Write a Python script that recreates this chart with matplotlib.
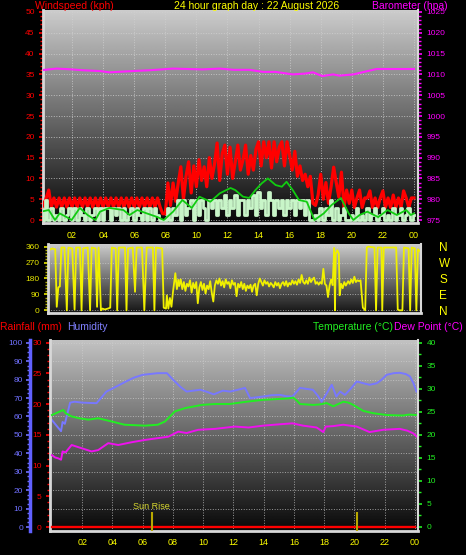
import numpy as np
import matplotlib
matplotlib.use('Agg')
import matplotlib.pyplot as plt
from matplotlib.ticker import MultipleLocator

plt.rcParams['font.family'] = ['Liberation Sans', 'DejaVu Sans']

W, H = 466, 555

hour_ticks = list(range(2, 25, 2))
hour_labels = ['02', '04', '06', '08', '10', '12', '14', '16', '18', '20', '22', '00']

# wind gust / wind speed (kph), one sample every 10 minutes, 00:00 .. 24:00
gust = [5.3, 3.1, 5.3, 7.2, 3.1, 5.3,
        3.1, 5.3, 3.1, 5.3, 3.1, 5.3,
        3.1, 5.3, 3.1, 5.3, 3.1, 5.3,
        3.1, 5.3, 3.1, 5.3, 3.1, 5.3,
        3.1, 5.3, 3.1, 5.3, 3.1, 5.3,
        3.1, 5.3, 3.1, 5.3, 3.1, 5.3,
        3.1, 5.3, 3.1, 5.3, 3.1, 5.3,
        3.1, 5.3, 3.1, 5.3, 3.1, 1.5,
        1.5, 8.9, 3.5, 8.9, 4.5, 8.9,
        12.8, 5.0, 10.5, 14.0, 6.5, 13.0,
        8.0, 14.5, 9.5, 12.8, 8.0, 15.0,
        10.0, 13.5, 18.5, 9.5, 16.0, 18.0,
        11.0, 17.5, 10.0, 14.0, 18.0, 12.0,
        14.5, 18.0, 11.0, 15.5, 12.0, 17.0,
        18.8, 13.0, 18.8, 15.0, 18.8, 12.5,
        18.8, 14.0, 17.5, 18.8, 13.0, 18.8,
        15.5, 12.0, 16.5, 10.5, 13.0, 9.5,
        11.0, 8.0, 10.5, 4.0, 3.5, 6.0,
        11.0, 5.0, 9.0, 4.0, 8.0, 12.7,
        9.0, 5.5, 11.5, 3.0, 7.2, 4.0,
        7.2, 3.0, 5.3, 7.2, 3.0, 5.3,
        5.3, 7.0, 3.0, 5.3, 3.0, 5.3,
        7.0, 3.0, 5.3, 3.0, 6.0, 3.0,
        5.3, 3.0, 7.0, 5.3, 3.0, 5.3,
        5.3]
wind = [3.0, 0.0, 4.8, 0.0, 3.0, 0.0,
        1.2, 0.0, 3.0, 0.0, 1.2, 3.0,
        0.0, 3.0, 0.0, 3.0, 1.2, 0.0,
        3.0, 0.0, 1.2, 3.0, 0.0, 3.0,
        0.0, 3.0, 3.0, 0.0, 3.0, 1.2,
        3.0, 0.0, 3.0, 0.0, 1.2, 3.0,
        0.0, 3.0, 1.2, 0.0, 3.0, 0.0,
        3.0, 0.0, 3.0, 1.2, 0.0, 0.0,
        0.0, 3.0, 0.0, 3.0, 1.2, 4.8,
        0.0, 4.8, 1.2, 3.0, 4.8, 0.0,
        4.8, 1.2, 4.8, 3.0, 0.0, 4.8,
        3.0, 4.8, 1.2, 4.8, 3.0, 6.0,
        1.2, 4.8, 3.0, 6.0, 1.2, 4.8,
        4.8, 1.2, 4.8, 3.0, 6.0, 1.2,
        6.8, 3.0, 4.8, 1.2, 6.8, 4.8,
        1.2, 4.8, 3.0, 4.8, 1.2, 4.8,
        3.0, 4.8, 1.2, 4.8, 3.0, 4.8,
        1.2, 4.8, 0.0, 0.0, 1.2, 0.0,
        3.0, 0.0, 3.0, 1.2, 4.8, 0.0,
        3.0, 0.0, 1.2, 3.0, 0.0, 0.0,
        1.2, 0.0, 3.0, 0.0, 1.2, 0.0,
        3.0, 0.0, 1.2, 3.0, 0.0, 1.2,
        3.0, 0.0, 1.2, 0.0, 3.0, 0.0,
        1.2, 3.0, 0.0, 1.2, 3.0, 0.0,
        1.2]
sample_hours = np.arange(len(gust)) / 6.0

avg_hours = [0, 0.5, 0.9, 1.2, 1.65, 1.97, 2.5, 3.0, 3.5, 3.8, 4.4, 5.3, 5.7, 6.2, 6.8, 7.5, 7.9,
             8.5, 9.1, 9.7, 10.2, 10.9, 11.5, 12.2, 12.5, 13.0, 13.4, 13.8, 14.2, 14.6, 15.1, 15.5,
             15.8, 16.2, 16.6, 17.1, 17.6, 18.2, 18.7, 19.3, 19.8, 20.1, 20.5, 21.0, 21.7, 22.3,
             22.9, 23.5, 23.8, 24.0]
avg_wind = [2.0, 2.4, 0.0, 1.6, 0.7, 0.0, 2.9, 1.2, 0.0, 2.0, 2.9, 2.4, 1.2, 2.4, 1.6, 0.7, 0.0,
            2.0, 4.8, 2.9, 5.6, 4.4, 6.4, 7.7, 7.2, 5.6, 5.3, 7.2, 8.8, 10.0, 8.4, 8.0,
            9.2, 7.2, 4.8, 4.4, 0.0, 1.6, 3.6, 5.3, 1.6, 0.0, 1.2, 2.0, 0.7, 2.4,
            1.2, 2.4, 1.2, 1.6]

baro_hours = [0, 1.0, 2.0, 2.7, 3.8, 4.4, 5.9, 7.0, 8.5, 9.4, 10.4, 11.5, 12.4, 13.4, 14.3, 15.1,
              16.2, 17.0, 17.5, 18.1, 18.8, 19.2, 20.1, 20.9, 21.6, 24.0]
baro = [1011.0, 1011.4, 1011.2, 1011.0, 1010.8, 1010.5, 1010.8, 1011.0, 1011.4, 1011.3, 1011.2,
        1011.4, 1011.1, 1011.1, 1010.6, 1010.6, 1010.0, 1010.2, 1010.5, 1009.6, 1010.0, 1009.7,
        1010.0, 1010.7, 1011.3, 1011.3]

# wind direction (degrees)
dir_night_hours = [0.0, 0.2, 0.4, 0.5, 0.6, 0.7, 0.8, 1.0, 1.15, 1.25, 1.5, 1.65, 1.75, 2.0, 2.1,
                   2.2, 2.5, 2.65, 2.75, 3.0, 3.1, 3.2, 3.35, 3.45, 3.6, 3.8, 3.95, 4.05, 4.3, 4.4,
                   4.5, 4.9, 5.0, 5.1, 5.4, 5.55, 5.65, 6.0, 6.15, 6.3, 6.7, 6.8, 6.9, 7.3, 7.4,
                   7.55, 7.6, 7.7, 7.8, 7.9, 8.0, 8.15, 8.25, 8.35]
dir_night = [340, 350, 345, 20, 130, 135, 355, 355, 0, 355, 350, 5, 355, 355, 0, 350, 355, 0, 355,
             350, 20, 355, 0, 10, 5, 10, 15, 355, 350, 0, 355, 355, 0, 350, 355, 105, 355, 355, 0,
             355, 355, 0, 355, 350, 15, 10, 85, 10, 70, 20, 105, 210, 120, 170]
# every 6 minutes from 08:24 to 18:18
dir_day = [140, 175, 120, 160, 110, 150, 135, 170, 100, 155,
           125, 160, 40, 130, 160, 115, 150, 95, 140, 120,
           165, 100, 50, 140, 170, 150, 180, 140, 165, 130,
           175, 150, 160, 125, 170, 145, 155, 80, 150, 130,
           160, 120, 150, 110, 140, 125, 145, 105, 140, 150,
           85, 150, 180, 160, 140, 170, 150, 160, 135, 155,
           145, 130, 160, 140, 155, 125, 150, 160, 140, 165,
           135, 155, 145, 170, 150, 165, 145, 175, 155, 200,
           160, 150, 170, 150, 185, 160, 175, 185, 150, 160,
           145, 160, 150, 235, 150, 140, 75, 140, 175, 145]
dir_day_hours = 8.4 + np.arange(len(dir_day)) * 0.1
dir_eve_hours = [18.4, 18.45, 18.5, 18.6, 18.7, 18.75, 18.85, 18.95, 19.05, 19.15, 19.3, 19.4,
                 19.5, 19.6, 19.7, 19.8, 19.9, 20.0, 20.1, 20.25, 20.4, 20.5, 20.6, 21.0, 21.1,
                 21.2, 21.45, 21.5, 21.6, 22.4, 22.5, 22.6, 22.8, 22.9, 23.2, 23.3, 23.4, 23.6,
                 23.7, 23.8, 24.0]
dir_eve = [350, 0, 320, 340, 320, 85, 150, 125, 160, 140, 165, 150, 175, 155, 190, 160, 170, 165,
           170, 15, 0, 355, 360, 355, 0, 355, 355, 0, 355, 355, 5, 0, 0, 355, 350, 0, 355, 350, 0,
           345, 330]

hum_hours = [0, 0.3, 0.6, 0.7, 0.85, 1.2, 1.5, 2.0, 2.95, 3.6, 4.2, 4.9, 5.4, 6.0, 7.0, 7.6, 8.0,
             8.5, 8.9, 9.8, 10.2, 10.7, 11.3, 11.77, 12.3, 12.76, 13.1, 13.95, 14.5, 15.07, 15.5,
             15.9, 16.4, 16.8, 17.25, 17.6, 17.83, 18.2, 18.5, 18.8, 19.05, 19.37, 19.8, 20.15,
             20.6, 21.0, 21.47, 21.8, 22.13, 22.6, 23.0, 23.4, 23.67, 23.9, 24.1]
humidity = [58, 55, 52, 57, 56, 67.5, 68, 67.5, 67.2, 73.5, 76, 79, 81, 82.6, 83.5, 83.5, 80,
            76, 73.5, 74.5, 73.5, 72, 74, 73.5, 74.5, 75.5, 70, 70.8, 71.5, 71.7, 71, 70.8,
            75.5, 75, 74.5, 71, 68, 73, 77.2, 70.8, 73.5, 71.7, 75.5, 79, 78, 77.2, 78, 80,
            82.6, 83.5, 83.7, 83, 81.7, 78, 73.5]

temp_hours = [0, 0.4, 0.75, 0.9, 1.3, 1.8, 2.4, 3.06, 3.95, 4.8, 6.15, 7.0, 7.47, 7.8, 8.13, 8.8,
              9.9, 10.78, 11.77, 12.87, 13.97, 15.07, 15.6, 15.95, 16.2, 16.4, 17.28, 17.7, 18.16,
              18.6, 19.0, 19.26, 19.6, 19.92, 20.58, 21.24, 22.13, 23.2, 23.6, 24.1]
temperature = [24.3, 24.9, 25.4, 24.7, 24.0, 23.6, 23.3, 23.6, 22.9, 22.2, 22.0, 22.2, 22.9,
               24.0, 25.1, 25.8, 26.5, 26.7, 26.7, 27.2, 27.6, 27.8, 27.9, 28.1, 27.4, 26.7,
               26.5, 26.6, 26.9, 26.2, 26.8, 27.2, 27.0, 26.5, 25.2, 24.7, 24.3, 24.2, 24.4, 24.3]

dew_hours = [0, 0.2, 0.42, 0.6, 0.7, 0.9, 1.3, 1.96, 2.62, 3.06, 3.72, 4.38, 5.27, 6.15, 7.03,
             7.69, 8.35, 8.9, 9.67, 10.78, 12.1, 13.0, 13.97, 15.07, 15.9, 16.6, 17.5, 17.94,
             18.1, 18.6, 19.26, 20.15, 21.0, 21.9, 23.0, 23.5, 23.9, 24.2]
dewpoint = [15.6, 15.1, 14.9, 14.6, 16.4, 16.2, 17.8, 17.1, 16.4, 16.7, 18.2, 17.8, 18.4, 18.9,
            19.3, 19.6, 20.7, 20.4, 21.1, 21.3, 21.8, 21.6, 22.0, 22.3, 22.5, 22.0, 21.6, 20.6,
            21.8, 21.9, 22.2, 21.8, 20.6, 21.1, 21.3, 20.9, 20.3, 19.4]

rain_hours = [0, 24]
rainfall = [0, 0]

sunrise = 6.6
sunset = 20.17

EDGE = '#d8d8d8'


def box(left, top, right, bottom):
    return [left / W, 1 - bottom / H, (right - left) / W, (bottom - top) / H]


def gradient(ax, top, bottom):
    g = np.linspace(top, bottom, 256).reshape(-1, 1)
    ax.imshow(g, extent=[0, 1, 0, 1], transform=ax.transAxes, aspect='auto',
              cmap='gray', vmin=0, vmax=1, zorder=0, interpolation='bilinear')


fig = plt.figure(figsize=(W / 100, H / 100), dpi=100, facecolor='black')

# ---------------- wind / barometer ----------------
ax1 = fig.add_axes(box(43, 10, 418, 223))
gradient(ax1, 0.80, 0.03)
ax1.plot(sample_hours, gust, color='#ff0000', lw=2.3, zorder=3)
ax1.plot(sample_hours, wind, color='#c8f5c8', lw=2.0, drawstyle='steps-mid', zorder=4)
ax1.plot(avg_hours, avg_wind, color='#11cc11', lw=1.3, zorder=5)
ax1.set_xlim(0.13, 24.26)
ax1.set_ylim(-0.72, 50.48)
ax1.set_xticks(hour_ticks)
ax1.set_xticklabels(hour_labels)
ax1.yaxis.set_major_locator(MultipleLocator(5))
ax1.yaxis.set_minor_locator(MultipleLocator(1))
ax1.tick_params(axis='y', which='major', colors='#ff0000', labelsize=6, length=3, width=1.2, pad=3)
ax1.tick_params(axis='y', which='minor', colors='#ff0000', length=2, width=1)
ax1.tick_params(axis='x', colors='#ffff00', labelsize=6.5, length=0, pad=6)
ax1.grid(True, color='#d0d0d0', ls=':', lw=0.7, alpha=0.8)
ax1.spines['top'].set_visible(False)
ax1.spines['right'].set_visible(False)
for s in ('left', 'bottom'):
    ax1.spines[s].set_color(EDGE)
    ax1.spines[s].set_linewidth(2)

axb = ax1.twinx()
axb.plot(baro_hours, baro, color='#ff22ff', lw=1.5)
axb.set_ylim(975 - 0.72, 1025 + 0.48)
axb.yaxis.set_major_locator(MultipleLocator(5))
axb.yaxis.set_minor_locator(MultipleLocator(1))
axb.tick_params(axis='y', which='major', colors='#ff00ff', labelsize=6, length=3, width=1.2, pad=3)
axb.tick_params(axis='y', which='minor', colors='#ff00ff', length=2, width=1)
for s in ('left', 'top', 'bottom'):
    axb.spines[s].set_visible(False)
axb.spines['right'].set_color(EDGE)
axb.spines['right'].set_linewidth(1.5)

fig.text(35 / W, 1 - 6 / H, 'Windspeed (kph)', color='#ff0000', fontsize=7.5, ha='left', va='center')
fig.text(257 / W, 1 - 6 / H, '24 hour graph day : 22 August 2026', color='#ffff00', fontsize=7.5,
         ha='center', va='center')
fig.text(372 / W, 1 - 6 / H, 'Barometer (hpa)', color='#ff00ff', fontsize=7.5, ha='left', va='center')

# ---------------- wind direction ----------------
ax2 = fig.add_axes(box(48, 244, 421, 313))
gradient(ax2, 0.80, 0.08)
ax2.plot(dir_night_hours, dir_night, color='#f0f000', lw=1.3)
ax2.plot(dir_day_hours, dir_day, color='#f0f000', lw=1.3)
ax2.plot(dir_eve_hours, dir_eve, color='#f0f000', lw=1.3)
ax2.plot([dir_night_hours[-1], dir_day_hours[0]], [dir_night[-1], dir_day[0]], color='#f0f000', lw=1.3)
ax2.plot([dir_day_hours[-1], dir_eve_hours[0]], [dir_day[-1], dir_eve[0]], color='#f0f000', lw=1.3)
ax2.set_xlim(-0.065, 24.0)
ax2.set_ylim(-15, 375)
ax2.set_xticks([])
ax2.set_yticks([0, 90, 180, 270, 360])
ax2.yaxis.set_minor_locator(MultipleLocator(18))
ax2.tick_params(axis='y', which='major', colors='#e8e800', labelsize=6, length=3, width=1.2, pad=3)
ax2.tick_params(axis='y', which='minor', colors='#b0b000', length=2, width=1)
ax2.yaxis.grid(True, color='#d0d0d0', ls=':', lw=0.7, alpha=0.7)
ax2.spines['top'].set_visible(False)
for s in ('left', 'bottom', 'right'):
    ax2.spines[s].set_color(EDGE)
    ax2.spines[s].set_linewidth(2 if s != 'right' else 1.5)

ax2r = ax2.twinx()
ax2r.set_ylim(-15, 375)
ax2r.set_yticks([0, 90, 180, 270, 360])
ax2r.set_yticklabels(['N', 'E', 'S', 'W', 'N'])
ax2r.tick_params(axis='y', colors='#ffff00', labelsize=8.5, length=0, pad=13)
for s in ax2r.spines.values():
    s.set_visible(False)

# ---------------- humidity / rain / temperature ----------------
axh = fig.add_axes(box(50, 340, 418, 531))
gradient(axh, 0.76, 0.03)
axh.plot(hum_hours, humidity, color='#7878ff', lw=1.4, zorder=3)
axh.set_xlim(-0.13, 24.2)
axh.set_ylim(-2.17, 101.5)
axh.set_xticks(hour_ticks)
axh.set_xticklabels(hour_labels)
axh.yaxis.set_major_locator(MultipleLocator(10))
axh.yaxis.set_minor_locator(MultipleLocator(2.5))
axh.tick_params(axis='y', which='major', colors='#7070ff', labelsize=6, length=3, width=1.2, pad=2)
axh.tick_params(axis='y', which='minor', colors='#7070ff', length=2, width=1)
axh.tick_params(axis='x', colors='#ffff00', labelsize=6.5, length=0, pad=5)
axh.grid(True, color='#d0d0d0', ls=':', lw=0.7, alpha=0.7)
axh.spines['left'].set_position(('outward', 14.4))
axh.spines['left'].set_color('#6060ff')
axh.spines['left'].set_linewidth(2.5)
for s in ('top', 'right', 'bottom'):
    axh.spines[s].set_visible(False)

axr = axh.twinx()
axr.yaxis.tick_left()
axr.plot(rain_hours, rainfall, color='#ff0000', lw=1.7, zorder=3)
axr.set_ylim(-0.65, 30.44)
axr.yaxis.set_major_locator(MultipleLocator(5))
axr.yaxis.set_minor_locator(MultipleLocator(1))
axr.tick_params(axis='y', which='major', colors='#ff0000', labelsize=6, length=3, width=1.2, pad=3)
axr.tick_params(axis='y', which='minor', colors='#ff0000', length=2, width=1)
for s in ('top', 'right'):
    axr.spines[s].set_visible(False)
for s in ('left', 'bottom'):
    axr.spines[s].set_color(EDGE)
    axr.spines[s].set_linewidth(2)

axt = axh.twinx()
axt.plot(temp_hours, temperature, color='#22ee22', lw=1.4)
axt.plot(dew_hours, dewpoint, color='#ee11ee', lw=1.4)
axt.vlines([sunrise, sunset], -0.87, 3.3, color='#b8a800', lw=1.5)
axt.text(sunrise, 3.4, 'Sun Rise', color='#d8d830', fontsize=6.5, ha='center', va='bottom')
axt.set_ylim(-0.87, 40.59)
axt.yaxis.set_major_locator(MultipleLocator(5))
axt.yaxis.set_minor_locator(MultipleLocator(2.5))
axt.tick_params(axis='y', which='major', colors='#22ee22', labelsize=6, length=3, width=1.2, pad=3)
axt.tick_params(axis='y', which='minor', colors='#22ee22', length=2, width=1)
for s in ('left', 'top', 'bottom'):
    axt.spines[s].set_visible(False)
axt.spines['right'].set_color(EDGE)
axt.spines['right'].set_linewidth(1.5)

fig.text(0 / W, 1 - 327 / H, 'Rainfall (mm)', color='#ff0000', fontsize=7.5, ha='left', va='center')
fig.text(67 / W, 1 - 327 / H, 'Humidity', color='#8080ff', fontsize=7.5, ha='left', va='center')
fig.text(313 / W, 1 - 327 / H, 'Temperature (\u00b0C)', color='#22ee22', fontsize=7.5, ha='left', va='center')
fig.text(394 / W, 1 - 327 / H, 'Dew Point (\u00b0C)', color='#ff00ff', fontsize=7.5, ha='left', va='center')

fig.savefig('out.png', dpi=100, facecolor='black')
